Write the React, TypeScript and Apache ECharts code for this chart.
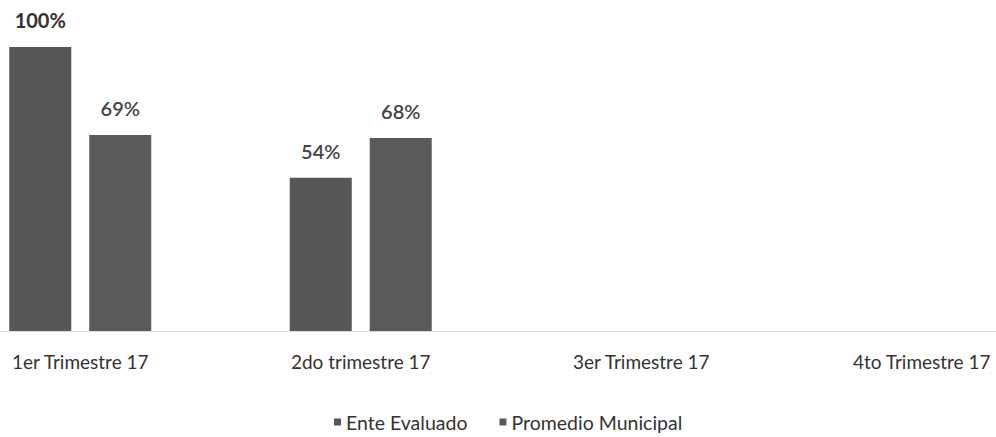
import React, { useEffect, useRef } from "react";
import * as echarts from "echarts";

const categories = ["1er Trimestre 17", "2do trimestre 17", "3er Trimestre 17", "4to Trimestre 17"];
const enteEvaluado: (number | null)[] = [1.0, 0.54, null, null];
const promedioMunicipal: (number | null)[] = [0.69, 0.68, null, null];
const seriesNames = ["Ente Evaluado", "Promedio Municipal"];

const FONT = "Lato, 'Noto Sans', sans-serif";
const SHIFT = 60;

export default function App() {
  const ref = useRef<HTMLDivElement>(null);
  useEffect(() => {
    if (!ref.current) return;
    const chart = echarts.init(ref.current, undefined, { renderer: "svg" });
    const mkData = (arr: (number | null)[]) =>
      arr.map((v) =>
        v === null
          ? null
          : {
              value: v,
              label: {
                fontWeight: v >= 1 ? "bold" : 600,
                color: v >= 1 ? "#333333" : "#444444",
              },
            }
      );
    const labelCfg = {
      show: true,
      position: "top" as const,
      distance: 17,
      fontFamily: FONT,
      fontSize: 20,
      formatter: (p: any) => Math.round(p.value * 100) + "%",
    };
    chart.setOption({
      animation: false,
      backgroundColor: "#ffffff",
      textStyle: { fontFamily: FONT },
      grid: { left: 0, right: 0, top: 47, height: 284, containLabel: false },
      legend: {
        data: seriesNames,
        left: 329 + SHIFT,
        top: 407,
        icon: "rect",
        itemWidth: 7,
        itemHeight: 7,
        itemGap: 32,
        textStyle: { fontFamily: FONT, fontSize: 19.5, color: "#333333" },
      },
      xAxis: {
        type: "category",
        data: categories,
        axisLine: { show: true, lineStyle: { color: "#dadada", width: 1 } },
        axisTick: { show: false },
        axisLabel: { fontFamily: FONT, fontSize: 19, color: "#333333", margin: 21 },
      },
      yAxis: {
        type: "value",
        min: 0,
        max: 1,
        show: false,
        splitLine: { show: false },
      },
      series: [
        {
          name: seriesNames[0],
          type: "bar",
          data: mkData(enteEvaluado),
          barWidth: 62,
          barGap: "29%",
          itemStyle: { color: "#575757" },
          label: labelCfg,
        },
        {
          name: seriesNames[1],
          type: "bar",
          data: mkData(promedioMunicipal),
          barWidth: 62,
          itemStyle: { color: "#5a5a5a" },
          label: labelCfg,
        },
      ],
    });
    return () => chart.dispose();
  }, []);
  return (
    <div
      style={{
        position: "absolute",
        left: 0,
        top: 0,
        width: 996,
        height: 437,
        overflow: "hidden",
        background: "#fff",
      }}
    >
      <div
        ref={ref}
        style={{ position: "absolute", left: -SHIFT, top: 0, width: 1122, height: 437 }}
      />
    </div>
  );
}
